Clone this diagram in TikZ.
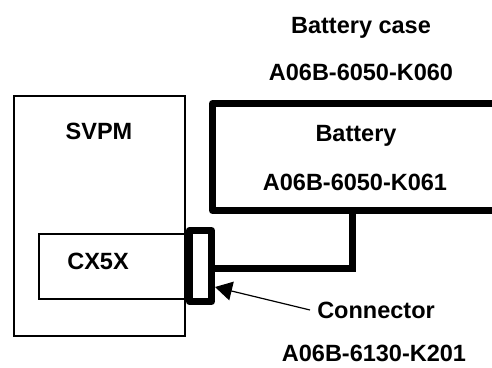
\documentclass[tikz,border=0pt]{standalone}
\usepackage{fontspec}
\setmainfont{Liberation Sans}
\usepackage{tikz}
\usetikzlibrary{positioning,arrows.meta}

\begin{document}
\begin{tikzpicture}[
    x=1pt, y=-1pt,
    thinbox/.style={rectangle, draw, line width=1.2pt, inner sep=0pt},
    thickbox/.style={rectangle, draw, line width=7pt, line join=round, inner sep=0pt},
    lbl/.style={font=\bfseries\fontsize{23.5}{28}\selectfont, text height=17pt, text depth=0pt, inner sep=1pt},
    wire/.style={draw, line width=7pt},
    pointer/.style={draw, line width=1.2pt, -{Triangle[length=17pt,width=19pt]}}
]
\useasboundingbox (0,0) rectangle (492,367);
\clip (0,0) rectangle (492,367);

% Nodes
\node[thinbox, minimum width=171pt, minimum height=240pt] (svpm) at (99.5,216) {};
\node[thinbox, minimum width=146pt, minimum height=65pt] (cx) at (112,266.5) {};
\node[thickbox, fill=white, minimum width=22.5pt, minimum height=71pt] (conn) at (200.25,266) {};
\node[thickbox, minimum width=307.5pt, minimum height=107pt] (battery) at (366.25,157) {};

\node[lbl] (svpmname) at (99,131) {SVPM};
\node[lbl] (cxname) at (98,261) {CX5X};
\node[lbl] (battname) at (356,133) {Battery};
\node[lbl] (battno) at (355,182) {A06B-6050-K061};
\node[lbl] (casename) at (361,25) {Battery case};
\node[lbl] (caseno) at (361,72) {A06B-6050-K060};
\node[lbl] (conname) at (376,310) {Connector};
\node[lbl] (conno) at (374,353) {A06B-6130-K201};

% Paths
\coordinate (bend) at (352,268.5);
\draw[wire] (battery.south -| bend) -- (bend) -- (bend -| conn.east);
\draw[pointer] ([xshift=-6pt]conname.west) -- (conn.east |- 0,287);

\end{tikzpicture}
\end{document}
